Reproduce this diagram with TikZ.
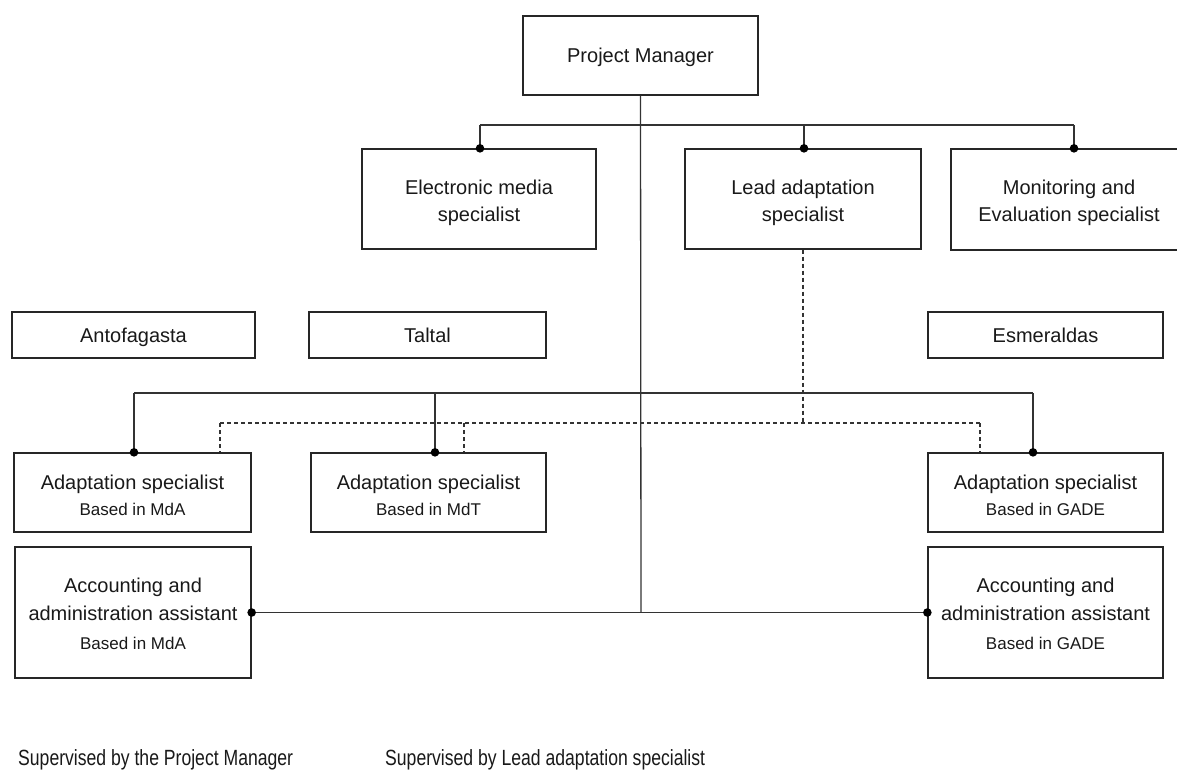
\documentclass[tikz,border=0pt]{standalone}
\usepackage{fontspec}
\setmainfont{Liberation Sans}
\newfontfamily\legendfont{Liberation Sans}[FakeStretch=0.8]
\newcommand{\upstrut}[1]{\rule{0pt}{#1}}
\begin{document}
\begin{tikzpicture}[x=1pt,y=-1pt,
  box/.style={draw=black!85, line width=1.3pt, inner sep=0pt, align=center,
    font=\fontsize{20}{27}\selectfont, text=black!90},
  onebox/.style={box, text height=14.4pt, text depth=0pt},
  conn/.style={draw=black!80, line width=1.3pt},
  dconn/.style={draw=black!80, line width=1.1pt, dash pattern=on 4pt off 3pt},
  dot/.style={fill=black},
  legend/.style={inner sep=0pt, anchor=base west, font=\legendfont\fontsize{22}{26}\selectfont, text=black!90}]
\useasboundingbox (0,0) rectangle (1177,769);
\clip (0,0) rectangle (1177,769);
\fill[white] (0,0) rectangle (1177,769);

% boxes
\node[onebox, minimum width=235pt, minimum height=79pt] (pm) at (640.5,55.5) {Project Manager};
\node[box, minimum width=234pt, minimum height=100pt] (elec) at (479,199) {\upstrut{21.5pt}Electronic media\\specialist};
\node[box, minimum width=236pt, minimum height=100pt] (lead) at (803,199) {\upstrut{21.5pt}Lead adaptation\\specialist};
\node[box, minimum width=236pt, minimum height=101pt] (mon) at (1069,199.5) {\upstrut{21.5pt}Monitoring and\\Evaluation specialist};

\node[onebox, minimum width=243pt, minimum height=46pt] (anto) at (133.5,335) {Antofagasta};
\node[onebox, minimum width=237pt, minimum height=46pt] (taltal) at (427.5,335) {Taltal};
\node[onebox, minimum width=235pt, minimum height=46pt] (esme) at (1045.5,335) {Esmeraldas};

\node[box, minimum width=237pt, minimum height=79pt] (admda) at (132.5,492.5)
  {\upstrut{20.5pt}Adaptation specialist\\[-1pt]\fontsize{17}{22}\selectfont Based in MdA};
\node[box, minimum width=235pt, minimum height=79pt] (admdt) at (428.5,492.5)
  {\upstrut{20.5pt}Adaptation specialist\\[-1pt]\fontsize{17}{22}\selectfont Based in MdT};
\node[box, minimum width=235pt, minimum height=79pt] (adgade) at (1045.5,492.5)
  {\upstrut{20.5pt}Adaptation specialist\\[-1pt]\fontsize{17}{22}\selectfont Based in GADE};

\node[box, minimum width=236pt, minimum height=131pt, font=\fontsize{20}{28.5}\selectfont] (accmda) at (133,612.5)
  {\upstrut{17pt}Accounting and\\administration assistant\\\fontsize{17}{28.5}\selectfont Based in MdA};
\node[box, minimum width=235pt, minimum height=131pt, font=\fontsize{20}{28.5}\selectfont] (accgade) at (1045.5,612.5)
  {\upstrut{17pt}Accounting and\\administration assistant\\\fontsize{17}{28.5}\selectfont Based in GADE};

% coordinates
\coordinate (t1) at (480,125);
\coordinate (t2) at (804,125);
\coordinate (t3) at (1074,125);
\coordinate (m1) at (134,393);
\coordinate (m2) at (435,393);
\coordinate (m3) at (1033,393);
\coordinate (d0) at (803,423);
\coordinate (d1) at (220,423);
\coordinate (d2) at (464,423);
\coordinate (d3) at (980,423);
\coordinate (bot) at (641,612.5);

% solid connectors (Project Manager)
\draw[conn] (pm.south) -- (bot);
\draw[conn] (t1) -- (t3);
\draw[conn] (t1) -- (t1 |- elec.north);
\draw[conn] (t2) -- (t2 |- lead.north);
\draw[conn] (t3) -- (t3 |- mon.north);
\draw[conn] (m1) -- (m3);
\draw[conn] (m1) -- (m1 |- admda.north);
\draw[conn] (m2) -- (m2 |- admdt.north);
\draw[conn] (m3) -- (m3 |- adgade.north);
\draw[conn] (accmda.east) -- (accgade.west);

% dashed connectors (Lead adaptation specialist)
\draw[dconn] (lead.south) -- (d0);
\draw[dconn] (d1) -- (d3);
\draw[dconn] (d1) -- (d1 |- admda.north);
\draw[dconn] (d2) -- (d2 |- admdt.north);
\draw[dconn] (d3) -- (d3 |- adgade.north);

% dots
\foreach \p in {t1 |- elec.north, t2 |- lead.north, t3 |- mon.north,
                m1 |- admda.north, m2 |- admdt.north, m3 |- adgade.north}
  \fill[dot] (\p) circle (4.3pt);
\fill[dot] (accmda.east) circle (4.3pt);
\fill[dot] (accgade.west) circle (4.3pt);

% legend
\node[legend] (leg1) at (18,765) {Supervised by the Project Manager};
\node[legend] (leg2) at (385,765) {Supervised by Lead adaptation specialist};
\end{tikzpicture}
\end{document}
